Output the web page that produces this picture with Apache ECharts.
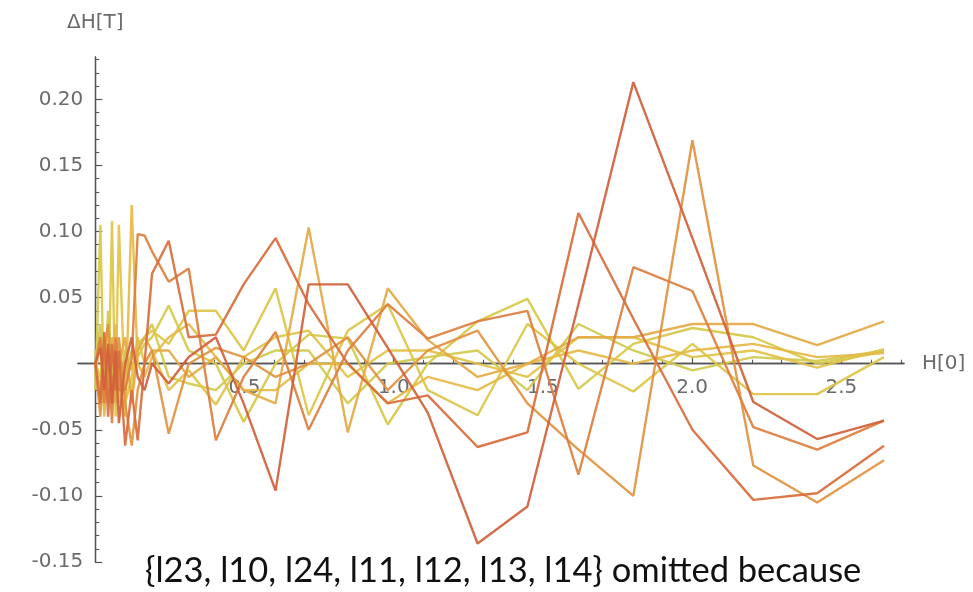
<!DOCTYPE html>
<html>
<head>
<meta charset="utf-8">
<script src="https://cdn.jsdelivr.net/npm/echarts@6.0.0/dist/echarts.min.js"></script>
<style>
html,body{margin:0;padding:0;background:#fff;}
#chart{width:973px;height:592px;}
</style>
</head>
<body>
<div id="chart"></div>
<script>
// H[0] sample positions
const hValues = [0.0, 0.017, 0.03, 0.043, 0.056, 0.068, 0.079, 0.1, 0.122, 0.142, 0.165, 0.19, 0.246, 0.313, 0.404, 0.497, 0.604, 0.715, 0.846, 0.98, 1.114, 1.281, 1.448, 1.619, 1.803, 2.001, 2.205, 2.419, 2.643];

// ΔH[T] for each curve
const l1 = [0.0, 0.012, -0.02, 0.015, -0.03, 0.01, -0.045, 0.0, 0.02, -0.01, -0.02, 0.0, -0.015, 0.005, 0.02, -0.03, -0.096, 0.06, 0.06, 0.012, -0.037, -0.136, -0.108, 0.045, 0.213, 0.095, -0.029, -0.057, -0.043];
const l2 = [0.0, -0.03, 0.024, -0.04, 0.015, -0.02, 0.01, -0.062, -0.02, -0.058, 0.0, 0.068, 0.093, 0.02, 0.022, 0.06, 0.095, 0.045, 0.0, -0.03, -0.024, -0.063, -0.052, 0.114, 0.034, -0.05, -0.103, -0.098, -0.062];
const l3 = [0.0, 0.02, -0.03, 0.01, -0.045, 0.02, -0.02, -0.02, 0.004, 0.098, 0.097, 0.085, 0.062, 0.072, -0.058, -0.01, 0.024, -0.05, 0.01, 0.045, 0.019, 0.032, 0.04, -0.084, 0.073, 0.055, -0.048, -0.065, -0.043];
const l4 = [0.0, -0.04, 0.01, 0.03, -0.02, 0.0, 0.02, -0.03, -0.062, -0.02, 0.0, 0.01, -0.053, 0.0, 0.012, 0.005, -0.01, 0.0, 0.02, -0.02, 0.01, 0.025, -0.03, -0.065, -0.1, 0.169, -0.077, -0.105, -0.073];
const l5 = [0.0, -0.02, 0.01, -0.025, 0.02, -0.03, 0.0, 0.02, -0.03, 0.01, 0.02, 0.01, 0.01, -0.01, 0.005, -0.02, -0.03, 0.103, -0.052, 0.057, 0.018, -0.01, 0.0, 0.02, 0.02, 0.03, 0.03, 0.014, 0.032];
const l6 = [-0.01, 0.02, -0.04, 0.0, 0.01, 0.03, -0.01, -0.04, 0.12, 0.0, -0.01, 0.005, 0.02, 0.03, 0.005, -0.02, -0.02, 0.0, 0.0, -0.03, -0.01, -0.02, 0.0, 0.01, 0.0, 0.01, 0.015, 0.005, 0.008];
const l7 = [0.01, -0.03, 0.0, 0.02, -0.02, -0.02, 0.105, -0.03, -0.01, 0.02, 0.0, 0.01, -0.02, -0.005, -0.031, 0.005, 0.02, 0.025, -0.01, 0.01, 0.01, 0.0, -0.01, 0.02, 0.02, 0.005, 0.01, -0.003, 0.011];
const l8 = [0.0, -0.01, 0.02, -0.03, 0.108, -0.04, -0.01, 0.0, -0.02, 0.01, 0.02, 0.025, 0.015, 0.04, 0.04, 0.01, 0.057, -0.039, 0.025, 0.045, -0.02, -0.039, 0.03, 0.0, -0.021, 0.015, -0.023, -0.023, 0.005];
const l9 = [-0.02, 0.105, -0.035, -0.01, 0.0, -0.02, 0.0, -0.01, 0.01, 0.005, 0.015, 0.02, 0.044, 0.01, 0.0, -0.044, 0.0, 0.022, 0.019, -0.046, 0.0, 0.032, 0.049, -0.019, 0.015, 0.027, 0.02, 0.0, 0.009];
const l10 = [0.0, 0.03, -0.02, 0.04, -0.01, 0.0, -0.03, 0.01, -0.005, 0.015, 0.02, 0.03, -0.01, -0.015, -0.02, 0.0, 0.01, 0.01, -0.03, 0.0, 0.005, 0.01, -0.02, 0.03, 0.01, -0.005, 0.005, 0.002, 0.01];

const curves = [l1, l2, l3, l4, l5, l6, l7, l8, l9, l10];
const curveColors = ['#d0613c', '#d86d3d', '#dd7f3f', '#e19341', '#e4aa45', '#e5ba47', '#e2c248', '#dcc647', '#d6c948', '#d1c94e'];

// tick labels
const xMajorTicks = [0.5, 1.0, 1.5, 2.0, 2.5];
const yMajorTicks = [-0.15, -0.10, -0.05, 0.05, 0.10, 0.15, 0.20];
const xMinorStep = 0.1, yMinorStep = 0.01;

const xMinor = [];
for (let k = 1; k <= 27; k++) { if (k % 5 !== 0) xMinor.push(+(k * xMinorStep).toFixed(2)); }
const yMinor = [];
for (let k = -15; k <= 23; k++) { if (k % 5 !== 0) yMinor.push(+(k * yMinorStep).toFixed(3)); }

const xMin = -0.058, xMax = 2.71, yMin = -0.15, yMax = 0.232;

// layout
const W = 973, H = 592;
const gLeft = 78, gRight = 69, gTop = 57, gBottom = 30;
const gW = W - gLeft - gRight, gH = H - gTop - gBottom;
const yAxisOffset = -((0 - xMin) / (xMax - xMin)) * gW;        // move y axis to x = 0
const xAxisOffset = -((0 - yMin) / (yMax - yMin)) * gH;        // move x axis to y = 0

const axisColor = '#555';
const labelStyle = { color: '#6b6b6b', fontSize: 20, fontFamily: 'DejaVu Sans' };

const chart = echarts.init(document.getElementById('chart'), null, { renderer: 'canvas' });
chart.setOption({
  backgroundColor: '#fff',
  animation: false,
  grid: { left: gLeft, right: gRight, top: gTop, bottom: gBottom, containLabel: false },
  xAxis: [
    {
      type: 'value', min: xMin, max: xMax, position: 'bottom', offset: xAxisOffset,
      axisLine: { onZero: false, lineStyle: { color: axisColor, width: 1.3 } },
      axisTick: { inside: true, length: 7, customValues: xMajorTicks, lineStyle: { color: axisColor, width: 1.2 } },
      axisLabel: { customValues: xMajorTicks, formatter: v => v.toFixed(1), margin: 14, ...labelStyle },
      splitLine: { show: false },
      name: 'H[0]', nameLocation: 'end', nameGap: 18,
      nameTextStyle: { ...labelStyle, verticalAlign: 'middle' }
    },
    {
      type: 'value', min: xMin, max: xMax, position: 'bottom', offset: xAxisOffset,
      axisLine: { onZero: false, lineStyle: { color: axisColor, width: 1.3 } },
      axisTick: { inside: true, length: 4, customValues: xMinor, lineStyle: { color: axisColor, width: 1.1 } },
      axisLabel: { show: false },
      splitLine: { show: false }
    }
  ],
  yAxis: [
    {
      type: 'value', min: yMin, max: yMax, position: 'left', offset: yAxisOffset,
      axisLine: { onZero: false, lineStyle: { color: axisColor, width: 1.3 } },
      axisTick: { inside: true, length: 7, customValues: yMajorTicks, lineStyle: { color: axisColor, width: 1.2 } },
      axisLabel: { customValues: yMajorTicks, formatter: v => v.toFixed(2), margin: 12, ...labelStyle },
      splitLine: { show: false },
      name: 'ΔH[T]', nameLocation: 'end', nameGap: 24,
      nameTextStyle: { ...labelStyle, align: 'center' }
    },
    {
      type: 'value', min: yMin, max: yMax, position: 'left', offset: yAxisOffset,
      axisLine: { onZero: false, lineStyle: { color: axisColor, width: 1.3 } },
      axisTick: { inside: true, length: 4, customValues: yMinor, lineStyle: { color: axisColor, width: 1.1 } },
      axisLabel: { show: false },
      splitLine: { show: false }
    }
  ],
  graphic: [
    {
      type: 'text', left: 145, top: 553,
      style: { text: '{l23, l10, l24, l11, l12, l13, l14} omitted because', font: '34.5px Lato', fill: '#111' }
    }
  ],
  series: curves.map((ys, i) => ({
    type: 'line', name: 'curve' + (i + 1),
    xAxisIndex: 0, yAxisIndex: 0,
    data: hValues.map((h, j) => [h, ys[j]]),
    showSymbol: false, symbol: 'none',
    lineStyle: { color: curveColors[i], width: 2.4, opacity: 0.92 },
    itemStyle: { color: curveColors[i] },
    z: 10 - i
  }))
});
</script>
</body>
</html>
